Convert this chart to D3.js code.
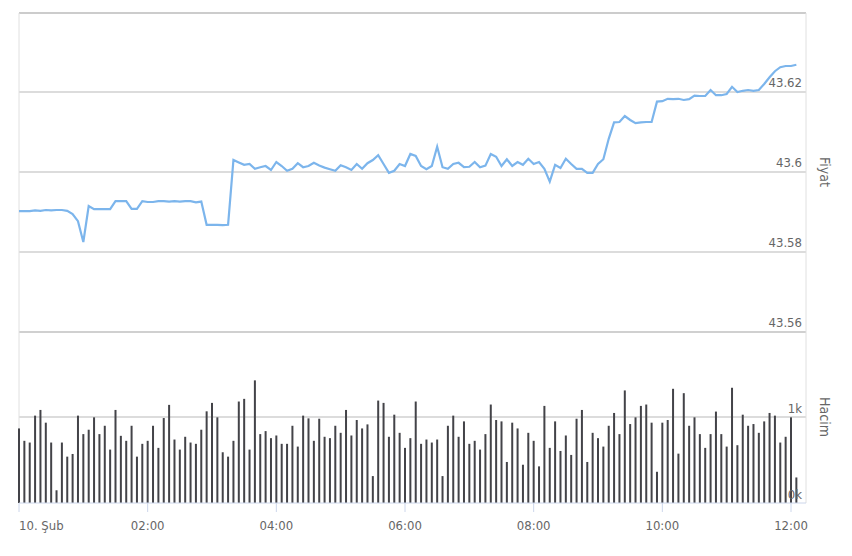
<!DOCTYPE html>
<html><head><meta charset="utf-8">
<script src="https://cdn.jsdelivr.net/npm/d3@7"></script>
<style>body{margin:0;background:#fff}svg{display:block}text{font-family:"DejaVu Sans Condensed","DejaVu Sans",sans-serif}</style>
</head><body><svg id="c" width="852" height="556"></svg>
<script>
const prices=[43.5902,43.5902,43.5902,43.5904,43.5903,43.5905,43.5904,43.5905,43.5905,43.5903,43.5895,43.5877,43.5825,43.5915,43.5907,43.5907,43.5907,43.5907,43.5927,43.5927,43.5927,43.5908,43.5908,43.5927,43.5925,43.5925,43.5927,43.5927,43.5926,43.5927,43.5926,43.5927,43.5927,43.5924,43.5926,43.5868,43.5868,43.5868,43.5867,43.5868,43.6030,43.6024,43.6018,43.6020,43.6008,43.6012,43.6015,43.6005,43.6025,43.6015,43.6003,43.6008,43.6022,43.6012,43.6015,43.6023,43.6016,43.6011,43.6007,43.6003,43.6017,43.6012,43.6005,43.6020,43.6008,43.6022,43.6030,43.6042,43.6020,43.5998,43.6003,43.6020,43.6015,43.6045,43.6040,43.6015,43.6007,43.6015,43.6063,43.6012,43.6008,43.6020,43.6023,43.6012,43.6013,43.6025,43.6012,43.6016,43.6045,43.6038,43.6015,43.6032,43.6015,43.6025,43.6018,43.6033,43.6020,43.6025,43.6008,43.5976,43.6018,43.6010,43.6033,43.6020,43.6008,43.6008,43.5998,43.5998,43.6020,43.6032,43.6083,43.6124,43.6125,43.6140,43.6130,43.6122,43.6124,43.6125,43.6125,43.6176,43.6177,43.6183,43.6182,43.6183,43.6180,43.6182,43.6191,43.6190,43.6190,43.6205,43.6192,43.6192,43.6195,43.6213,43.6200,43.6203,43.6205,43.6203,43.6205,43.6220,43.6237,43.6252,43.6262,43.6265,43.6265,43.6268];
const volumes=[867,723,703,1016,1082,934,703,148,703,539,570,1016,801,852,996,801,898,621,1082,781,723,898,539,688,723,898,641,988,1141,738,621,770,703,688,852,1066,1164,996,590,539,723,1180,1211,621,1426,801,836,754,785,688,688,898,656,1016,984,723,980,770,754,898,816,1082,785,965,867,914,313,1191,1164,770,1027,816,641,754,1180,688,738,703,738,313,898,1016,770,949,688,723,621,801,1145,965,949,477,934,867,445,816,723,426,1129,641,949,605,785,559,980,1082,477,816,754,656,898,1047,801,1309,918,996,1129,1145,934,363,934,965,1328,574,1277,898,996,801,641,801,1063,801,656,1340,672,1027,898,918,816,949,1047,1016,703,770,996,297];
const priceTicks=[43.56,43.58,43.6,43.62];
const priceTickLabels=["43.56","43.58","43.6","43.62"];
const timeTicks=[0,2,4,6,8,10,12];
const timeTickLabels=["10. Şub","02:00","04:00","06:00","08:00","10:00","12:00"];

const svg=d3.select("#c");
const L=19,R=806;
const t0=new Date(2025,1,10,0,0);
const tAt=m=>new Date(t0.getTime()+m*60000);
const x=d3.scaleTime().domain([t0,tAt(720)]).range([L,791]);
const yP=d3.scaleLinear().domain([43.56,43.64]).range([332,12]);
const yV=d3.scaleLinear().domain([0,2000]).range([503,331]);
const g="#d0d0d0";
// gridlines
priceTicks.forEach((v,i)=>{
  svg.append("line").attr("x1",L).attr("x2",R).attr("y1",yP(v)).attr("y2",yP(v)).attr("stroke",g).attr("stroke-width",i==0?2:1.5);
  svg.append("text").attr("x",R-4).attr("y",yP(v)-5).attr("text-anchor","end").attr("font-size",13).attr("fill","#666").text(priceTickLabels[i]);
});
svg.append("line").attr("x1",L).attr("x2",R).attr("y1",yV(1000)).attr("y2",yV(1000)).attr("stroke",g).attr("stroke-width",1.5);
svg.append("text").attr("x",R-4).attr("y",yV(1000)-4).attr("text-anchor","end").attr("font-size",13).attr("fill","#666").text("1k");
// frame
svg.append("line").attr("x1",L).attr("x2",R).attr("y1",13).attr("y2",13).attr("stroke","#ccc").attr("stroke-width",2);
[L,R].forEach(xx=>{svg.append("line").attr("x1",xx).attr("x2",xx).attr("y1",13).attr("y2",503).attr("stroke","#e0e0e0").attr("stroke-width",1);});
// bars
svg.append("g").selectAll("rect").data(volumes).join("rect")
 .attr("x",(d,i)=>x(tAt(i*5))-1).attr("width",2).attr("y",d=>yV(d)).attr("height",d=>yV(0)-yV(d)).attr("fill","#434348");
svg.append("text").attr("x",R-4).attr("y",499).attr("text-anchor","end").attr("font-size",13).attr("fill","#666").text("0k");
// line
svg.append("path").datum(prices).attr("fill","none").attr("stroke","#7cb5ec").attr("stroke-width",2.2)
 .attr("d",d3.line().x((d,i)=>x(tAt(i*5))).y(d=>yP(d)));
// x axis
svg.append("line").attr("x1",L).attr("x2",R).attr("y1",503).attr("y2",503).attr("stroke","#ccd6eb");
timeTicks.forEach((h,i)=>{
  const xx=x(tAt(h*60));
  svg.append("line").attr("x1",xx).attr("x2",xx).attr("y1",503).attr("y2",512).attr("stroke","#ccd6eb");
  svg.append("text").attr("x",xx).attr("y",530).attr("text-anchor",i==0?"start":"middle").attr("font-size",13).attr("fill","#666").text(timeTickLabels[i]);
});
// axis titles
[["Fiyat",172],["Hacim",417]].forEach(([t,yy])=>{
  svg.append("text").attr("transform",`translate(820,${yy}) rotate(90)`).attr("text-anchor","middle").attr("font-size",14).attr("fill","#666").text(t);
});
</script></body></html>
